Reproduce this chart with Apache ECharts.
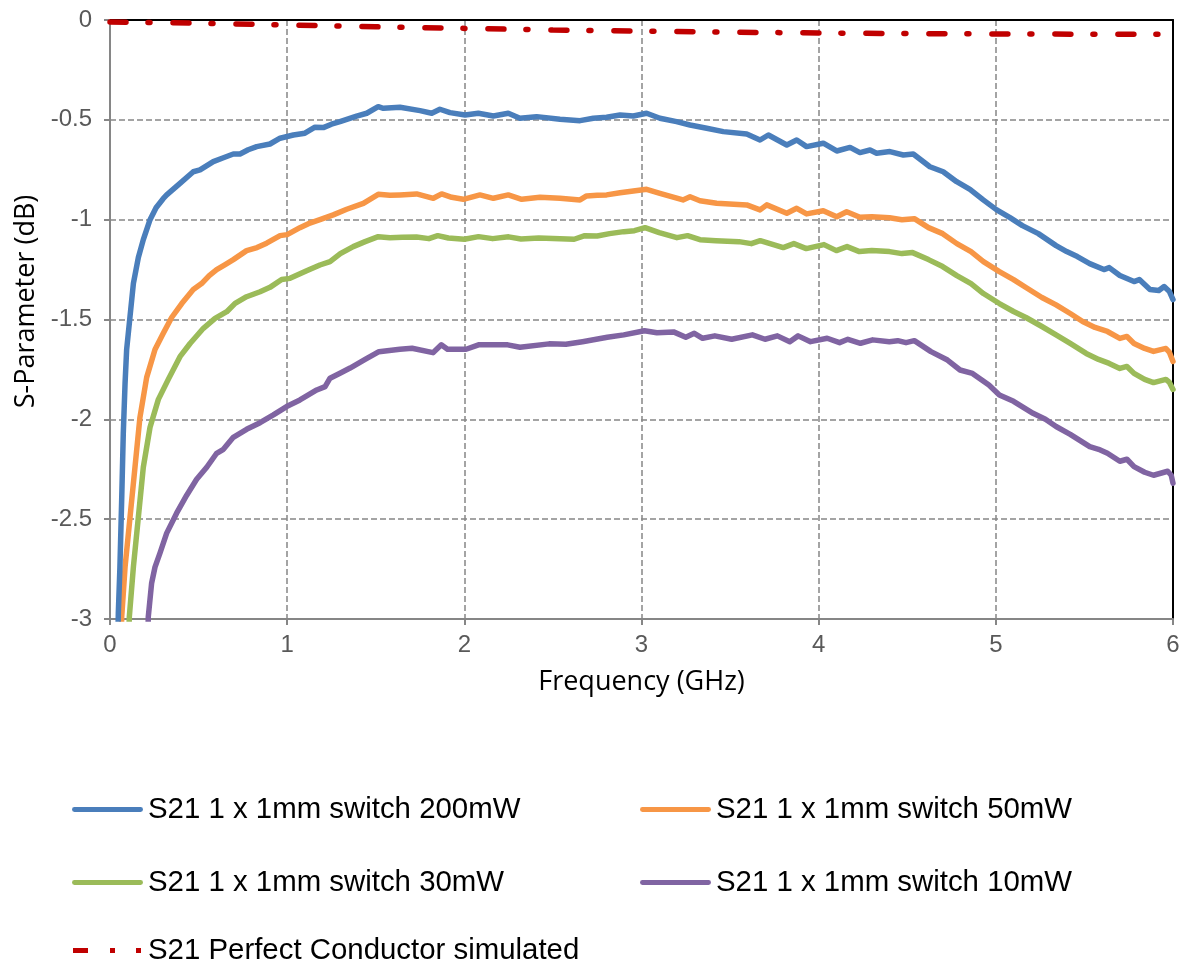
<!DOCTYPE html>
<html>
<head>
<meta charset="utf-8">
<script src="https://cdn.jsdelivr.net/npm/echarts@6/dist/echarts.min.js"></script>
<style>
html,body{margin:0;padding:0;background:#fff;}
#chart{width:1185px;height:962px;}
</style>
</head>
<body>
<div id="chart"></div>
<script>
const xTicks = [0, 1, 2, 3, 4, 5, 6];
const yTicks = [0, -0.5, -1, -1.5, -2, -2.5, -3];
const seriesNames = [
  'S21 1 x 1mm switch 200mW',
  'S21 1 x 1mm switch 50mW',
  'S21 1 x 1mm switch 30mW',
  'S21 1 x 1mm switch 10mW',
  'S21 Perfect Conductor simulated'
];
const s200mW = [[0.04,-3.3],[0.047,-2.97],[0.056,-2.74],[0.066,-2.40],[0.075,-2.07],[0.085,-1.82],[0.094,-1.65],[0.113,-1.485],[0.132,-1.32],[0.16,-1.19],[0.188,-1.10],[0.226,-1.0],[0.26,-0.94],[0.3,-0.895],[0.32,-0.876],[0.395,-0.818],[0.47,-0.76],[0.508,-0.751],[0.583,-0.709],[0.64,-0.69],[0.696,-0.671],[0.734,-0.671],[0.78,-0.65],[0.828,-0.634],[0.903,-0.621],[0.96,-0.592],[1.035,-0.576],[1.10,-0.567],[1.157,-0.537],[1.204,-0.539],[1.25,-0.522],[1.298,-0.509],[1.392,-0.481],[1.449,-0.467],[1.514,-0.434],[1.543,-0.442],[1.637,-0.437],[1.75,-0.454],[1.816,-0.467],[1.862,-0.447],[1.919,-0.464],[2.004,-0.476],[2.079,-0.467],[2.164,-0.481],[2.248,-0.467],[2.314,-0.492],[2.408,-0.484],[2.54,-0.497],[2.653,-0.504],[2.728,-0.492],[2.803,-0.487],[2.879,-0.476],[2.954,-0.481],[3.029,-0.467],[3.104,-0.492],[3.198,-0.509],[3.274,-0.526],[3.368,-0.542],[3.462,-0.559],[3.594,-0.571],[3.669,-0.601],[3.716,-0.576],[3.82,-0.626],[3.876,-0.601],[3.932,-0.634],[4.026,-0.617],[4.102,-0.656],[4.177,-0.638],[4.233,-0.664],[4.29,-0.651],[4.327,-0.667],[4.402,-0.659],[4.478,-0.676],[4.534,-0.671],[4.628,-0.735],[4.703,-0.76],[4.779,-0.81],[4.854,-0.848],[4.929,-0.901],[5.005,-0.951],[5.08,-0.99],[5.15,-1.03],[5.24,-1.07],[5.34,-1.13],[5.40,-1.16],[5.46,-1.185],[5.53,-1.22],[5.61,-1.25],[5.64,-1.24],[5.70,-1.28],[5.78,-1.31],[5.81,-1.30],[5.87,-1.35],[5.92,-1.355],[5.95,-1.335],[5.98,-1.36],[6.0,-1.40]];
const s50mW = [[0.06,-3.3],[0.066,-2.99],[0.085,-2.74],[0.113,-2.49],[0.141,-2.24],[0.169,-1.99],[0.207,-1.79],[0.254,-1.65],[0.30,-1.57],[0.348,-1.49],[0.405,-1.42],[0.47,-1.35],[0.517,-1.32],[0.56,-1.28],[0.602,-1.25],[0.65,-1.225],[0.696,-1.20],[0.771,-1.155],[0.83,-1.14],[0.884,-1.118],[0.96,-1.08],[1.0,-1.075],[1.072,-1.04],[1.12,-1.02],[1.185,-1.0],[1.26,-0.976],[1.336,-0.948],[1.43,-0.918],[1.514,-0.873],[1.58,-0.878],[1.637,-0.876],[1.731,-0.871],[1.825,-0.893],[1.872,-0.871],[1.929,-0.888],[1.994,-0.898],[2.088,-0.876],[2.164,-0.893],[2.248,-0.876],[2.324,-0.898],[2.427,-0.888],[2.54,-0.893],[2.653,-0.901],[2.69,-0.881],[2.75,-0.878],[2.803,-0.876],[2.879,-0.865],[2.954,-0.856],[3.029,-0.848],[3.104,-0.868],[3.234,-0.901],[3.274,-0.885],[3.33,-0.905],[3.424,-0.918],[3.594,-0.926],[3.669,-0.951],[3.707,-0.926],[3.82,-0.968],[3.876,-0.943],[3.932,-0.971],[4.026,-0.955],[4.102,-0.985],[4.158,-0.96],[4.233,-0.988],[4.30,-0.985],[4.40,-0.99],[4.47,-1.0],[4.54,-0.995],[4.62,-1.04],[4.70,-1.07],[4.78,-1.12],[4.86,-1.16],[4.93,-1.21],[5.02,-1.26],[5.10,-1.30],[5.17,-1.34],[5.26,-1.39],[5.34,-1.427],[5.42,-1.47],[5.49,-1.51],[5.56,-1.54],[5.63,-1.56],[5.70,-1.595],[5.74,-1.585],[5.78,-1.62],[5.84,-1.645],[5.89,-1.66],[5.96,-1.645],[5.98,-1.665],[6.0,-1.71]];
const s30mW = [[0.1,-3.3],[0.109,-2.99],[0.132,-2.74],[0.16,-2.49],[0.188,-2.24],[0.226,-2.04],[0.273,-1.90],[0.329,-1.80],[0.395,-1.686],[0.452,-1.62],[0.527,-1.544],[0.593,-1.494],[0.659,-1.461],[0.706,-1.419],[0.771,-1.386],[0.847,-1.361],[0.903,-1.339],[0.969,-1.30],[1.016,-1.294],[1.11,-1.256],[1.185,-1.227],[1.242,-1.21],[1.30,-1.17],[1.373,-1.135],[1.44,-1.11],[1.514,-1.085],[1.58,-1.09],[1.65,-1.088],[1.73,-1.087],[1.80,-1.095],[1.85,-1.08],[1.91,-1.092],[2.0,-1.098],[2.08,-1.085],[2.16,-1.095],[2.25,-1.086],[2.32,-1.097],[2.42,-1.092],[2.54,-1.095],[2.62,-1.098],[2.68,-1.08],[2.75,-1.082],[2.82,-1.07],[2.9,-1.06],[2.96,-1.055],[3.02,-1.04],[3.1,-1.065],[3.2,-1.09],[3.26,-1.08],[3.33,-1.1],[3.42,-1.105],[3.55,-1.11],[3.62,-1.12],[3.67,-1.105],[3.8,-1.14],[3.86,-1.12],[3.93,-1.145],[4.03,-1.125],[4.1,-1.155],[4.16,-1.135],[4.23,-1.16],[4.3,-1.155],[4.4,-1.16],[4.47,-1.17],[4.53,-1.165],[4.62,-1.2],[4.7,-1.235],[4.78,-1.28],[4.86,-1.32],[4.93,-1.37],[5.02,-1.42],[5.10,-1.46],[5.17,-1.49],[5.26,-1.535],[5.34,-1.577],[5.42,-1.62],[5.51,-1.67],[5.58,-1.70],[5.64,-1.72],[5.70,-1.745],[5.74,-1.735],[5.78,-1.77],[5.84,-1.80],[5.89,-1.816],[5.96,-1.80],[5.98,-1.815],[6.0,-1.85]];
const s10mW = [[0.21,-3.3],[0.216,-2.99],[0.235,-2.82],[0.254,-2.74],[0.282,-2.67],[0.32,-2.57],[0.376,-2.47],[0.433,-2.38],[0.489,-2.30],[0.546,-2.24],[0.602,-2.17],[0.64,-2.15],[0.696,-2.09],[0.771,-2.05],[0.847,-2.017],[0.922,-1.978],[0.997,-1.936],[1.072,-1.903],[1.167,-1.853],[1.214,-1.836],[1.242,-1.794],[1.298,-1.769],[1.355,-1.743],[1.44,-1.70],[1.518,-1.661],[1.636,-1.649],[1.705,-1.644],[1.823,-1.666],[1.87,-1.627],[1.905,-1.649],[2.01,-1.649],[2.08,-1.627],[2.245,-1.627],[2.314,-1.639],[2.478,-1.622],[2.573,-1.624],[2.667,-1.611],[2.807,-1.589],[2.90,-1.577],[3.017,-1.556],[3.087,-1.566],[3.181,-1.562],[3.25,-1.589],[3.298,-1.569],[3.345,-1.594],[3.414,-1.582],[3.509,-1.599],[3.626,-1.577],[3.697,-1.599],[3.767,-1.582],[3.837,-1.611],[3.884,-1.582],[3.954,-1.611],[4.048,-1.594],[4.118,-1.616],[4.165,-1.599],[4.236,-1.619],[4.305,-1.602],[4.399,-1.611],[4.446,-1.606],[4.493,-1.616],[4.54,-1.606],[4.634,-1.661],[4.727,-1.703],[4.798,-1.753],[4.868,-1.77],[4.961,-1.828],[5.02,-1.878],[5.10,-1.91],[5.21,-1.97],[5.28,-2.0],[5.34,-2.036],[5.42,-2.075],[5.53,-2.137],[5.58,-2.15],[5.63,-2.17],[5.70,-2.21],[5.74,-2.20],[5.78,-2.237],[5.84,-2.265],[5.89,-2.28],[5.97,-2.26],[5.99,-2.28],[6.0,-2.32]];
const sPerfect = [[0,-0.01],[0.5,-0.016],[1,-0.025],[1.5,-0.034],[2,-0.042],[2.5,-0.05],[3,-0.056],[3.5,-0.061],[4,-0.065],[4.5,-0.068],[5,-0.07],[5.5,-0.071],[6,-0.072]];

const colors = ['#4A7EBB', '#F79646', '#9BBB59', '#8064A2', '#C00000'];
const seriesData = [s200mW, s50mW, s30mW, s10mW, sPerfect];

const chart = echarts.init(document.getElementById('chart'), null, {renderer: 'canvas'});
const tickFont = {fontFamily: 'Liberation Sans, Arial, sans-serif', fontSize: 24, color: '#595959'};
const titleFont = {fontFamily: 'Open Sans, sans-serif', fontSize: 27, color: '#000'};
const legendText = {fontFamily: 'Liberation Sans, Arial, sans-serif', fontSize: 29.4, color: '#000'};
const legendPos = [
  {left: 72, top: 795},
  {left: 640, top: 795},
  {left: 72, top: 868},
  {left: 640, top: 868},
  {left: 72, top: 936}
];
const solidIcon = 'path://M2,0 H69 A2.5,2.5 0 0 1 69,5 H2 A2.5,2.5 0 0 1 2,0 Z';
const dashDotIcon = 'path://M1,0 H16 V5 H1 Z M38,0 H43 V5 H38 Z M64,0 H69 V5 H64 Z M0,0 H0.01 V5 H0 Z M70.99,0 H71 V5 H70.99 Z';
const perfectDash = [16, 22, 2, 23];

const axisHidden = {show: true, axisTick: {show: false}, axisLabel: {show: false}, splitLine: {show: false}};

const option = {
  animation: false,
  backgroundColor: '#fff',
  grid: {left: 110, right: 12, top: 20, bottom: 343, show: false},
  xAxis: [{
    type: 'value', min: 0, max: 6, interval: 1,
    name: 'Frequency (GHz)', nameLocation: 'middle', nameGap: 50, nameTextStyle: titleFont,
    axisLine: {show: true, onZero: false, lineStyle: {color: '#868686', width: 2}},
    axisTick: {show: true, length: 6, lineStyle: {color: '#868686', width: 2}},
    axisLabel: Object.assign({margin: 14, formatter: v => (xTicks.indexOf(v) >= 0 ? String(v) : '')}, tickFont),
    splitLine: {show: true, lineStyle: {color: '#868686', width: 1.5, type: [6, 3]}}
  }, Object.assign({
    type: 'value', min: 0, max: 6, interval: 1, position: 'top',
    axisLine: {show: true, onZero: false, lineStyle: {color: '#000', width: 2}}
  }, axisHidden)],
  yAxis: [{
    type: 'value', min: -3, max: 0, interval: 0.5,
    name: 'S-Parameter (dB)', nameLocation: 'middle', nameGap: 66,
    nameTextStyle: Object.assign({padding: [0, 0, 0, 36]}, titleFont),
    axisLine: {show: true, onZero: false, lineStyle: {color: '#868686', width: 2}},
    axisTick: {show: true, length: 6, lineStyle: {color: '#868686', width: 2}},
    axisLabel: Object.assign({margin: 18, formatter: v => (yTicks.indexOf(v) >= 0 ? String(v) : '')}, tickFont),
    splitLine: {show: true, lineStyle: {color: '#868686', width: 1.5, type: [6, 3]}}
  }, Object.assign({
    type: 'value', min: -3, max: 0, interval: 0.5, position: 'right',
    axisLine: {show: true, onZero: false, lineStyle: {color: '#000', width: 2}}
  }, axisHidden)],
  legend: seriesNames.map((n, i) => ({
    show: true,
    left: legendPos[i].left, top: legendPos[i].top,
    padding: 0,
    itemWidth: 71, itemHeight: 5, itemGap: 0,
    textStyle: legendText,
    data: [{name: n, icon: i === 4 ? dashDotIcon : solidIcon, itemStyle: {color: colors[i], borderWidth: 0}}]
  })),
  series: seriesNames.map((n, i) => ({
    name: n,
    type: 'line',
    xAxisIndex: 0,
    yAxisIndex: 0,
    data: seriesData[i],
    symbol: 'none',
    smooth: false,
    clip: true,
    z: 10 - i,
    lineStyle: i === 4
      ? {color: colors[i], width: 5.5, type: perfectDash, cap: 'round'}
      : {color: colors[i], width: 5.5, cap: 'round', join: 'round'},
    itemStyle: {color: colors[i]}
  }))
};
chart.setOption(option);
</script>
</body>
</html>
